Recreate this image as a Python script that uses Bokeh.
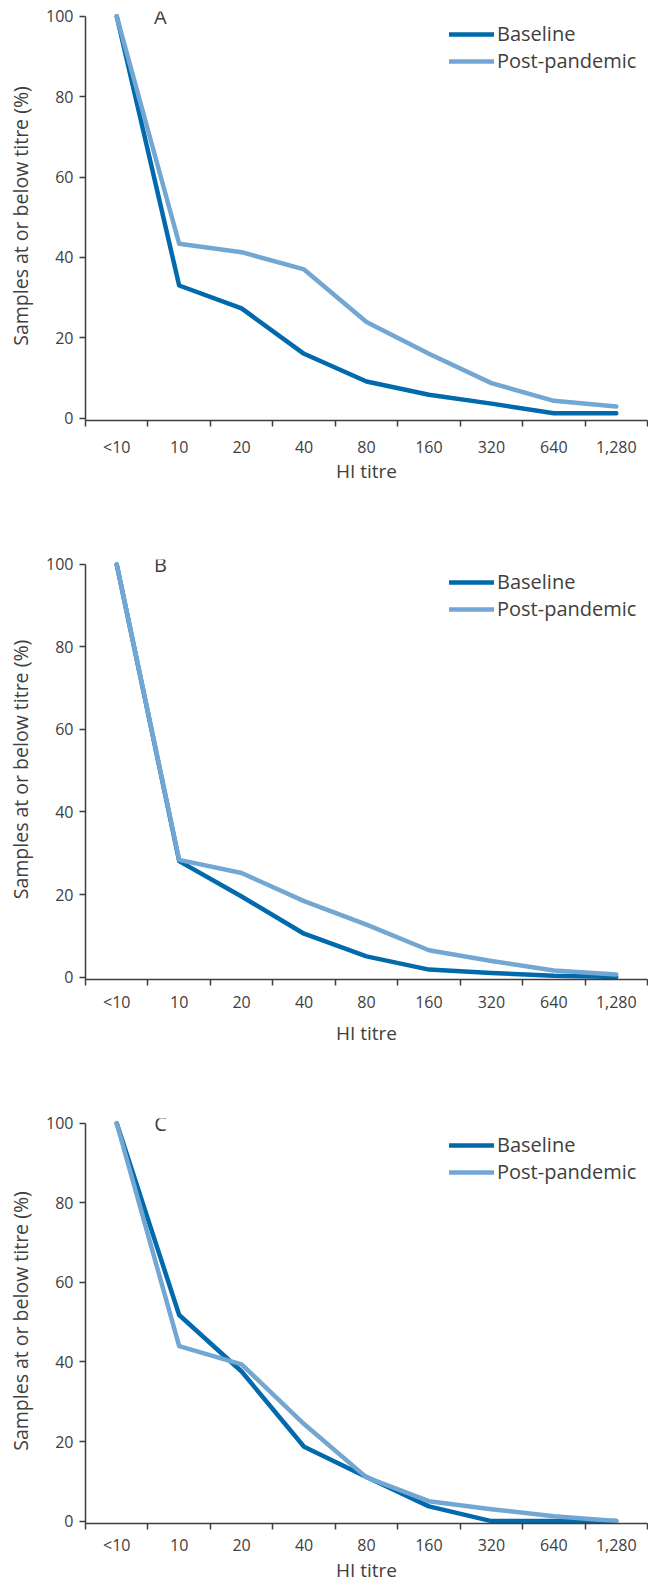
from bokeh.plotting import figure
from bokeh.models import Range1d, FixedTicker, Legend, LegendItem, Label
from bokeh.layouts import column
from bokeh.embed import file_html
from bokeh.resources import INLINE

# ---- data ----
titres = ["<10", "10", "20", "40", "80", "160", "320", "640", "1,280"]
baseline_a = [100, 33.0, 27.3, 16.0, 9.1, 5.8, 3.6, 1.2, 1.2]
post_a = [100, 43.4, 41.3, 37.0, 23.9, 16.0, 8.7, 4.3, 2.9]
baseline_b = [100, 28.1, 19.5, 10.5, 5.0, 1.8, 1.0, 0.3, 0.0]
post_b = [100, 28.4, 25.2, 18.4, 12.7, 6.5, 3.9, 1.6, 0.6]
baseline_c = [100, 51.8, 37.6, 18.7, 11.1, 3.7, 0.0, 0.0, 0.0]
post_c = [100, 44.0, 39.4, 24.4, 11.0, 5.0, 3.0, 1.2, 0.0]
series_names = ["Baseline", "Post-pandemic"]
panel_letters = ["A", "B", "C"]
y_ticks = [0, 20, 40, 60, 80, 100]
x_title = "HI titre"
y_title = "Samples at or below titre (%)"

# ---- style ----
FONT = "Open Sans"
DARK = "#006aad"
LIGHT = "#72a7d3"
AXIS = "#3d3d3d"
TEXT = "#404040"


def make_panel(letter, base, post, frame_h, b_top, b_bottom, tick_sd, title_sd, leg_top):
    n = len(titres)
    xs = list(range(n))
    p = figure(frame_width=562, frame_height=frame_h,
               min_border_left=85, min_border_right=1,
               min_border_top=b_top, min_border_bottom=b_bottom,
               x_range=Range1d(-0.5, n - 0.5), y_range=Range1d(-0.6, 101.2),
               output_backend="svg", toolbar_location=None)
    p.xgrid.visible = False
    p.ygrid.visible = False
    p.outline_line_color = None
    p.background_fill_color = "white"

    r_base = p.line(xs, base, line_color=DARK, line_width=4.5,
                    line_join="round", line_cap="round")
    r_post = p.line(xs, post, line_color=LIGHT, line_width=4.5,
                    line_join="round", line_cap="round")

    xa = p.xaxis[0]
    xa.ticker = FixedTicker(ticks=xs, minor_ticks=[i - 0.5 for i in range(n + 1)])
    xa.major_label_overrides = {i: t for i, t in zip(xs, titres)}
    xa.major_tick_out = 0
    xa.major_tick_in = 0
    xa.minor_tick_out = 6
    xa.minor_tick_in = 0
    xa.minor_tick_line_color = AXIS
    xa.minor_tick_line_width = 1.5
    xa.axis_line_color = AXIS
    xa.axis_line_width = 1.5
    xa.major_label_text_font = FONT
    xa.major_label_text_font_size = "16px"
    xa.major_label_text_color = TEXT
    xa.major_label_standoff = tick_sd
    xa.axis_label = x_title
    xa.axis_label_text_font = FONT
    xa.axis_label_text_font_size = "19px"
    xa.axis_label_text_font_style = "normal"
    xa.axis_label_text_color = TEXT
    xa.axis_label_standoff = title_sd

    ya = p.yaxis[0]
    ya.ticker = FixedTicker(ticks=y_ticks)
    ya.bounds = (-0.6, 100)
    ya.major_tick_out = 6
    ya.major_tick_in = 0
    ya.minor_tick_out = 0
    ya.minor_tick_in = 0
    ya.major_tick_line_color = AXIS
    ya.major_tick_line_width = 1.5
    ya.axis_line_color = AXIS
    ya.axis_line_width = 1.5
    ya.major_label_text_font = FONT
    ya.major_label_text_font_size = "16px"
    ya.major_label_text_color = TEXT
    ya.major_label_standoff = 6
    ya.axis_label = y_title
    ya.axis_label_text_font = FONT
    ya.axis_label_text_font_size = "19.5px"
    ya.axis_label_text_font_style = "normal"
    ya.axis_label_text_color = TEXT
    ya.axis_label_standoff = 9

    legend = Legend(items=[LegendItem(label=series_names[0], renderers=[r_base]),
                           LegendItem(label=series_names[1], renderers=[r_post])],
                    location=(364, frame_h - leg_top - 55), padding=0, spacing=0,
                    glyph_width=45, glyph_height=24, label_height=24,
                    label_standoff=3,
                    label_text_font=FONT, label_text_font_size="20px",
                    label_text_color=TEXT,
                    border_line_color=None, background_fill_alpha=0)
    p.add_layout(legend)

    p.add_layout(Label(x=0.7, y=100, text=letter, text_align="center",
                       text_baseline="middle", text_font=FONT,
                       text_font_size="20px", text_color=TEXT))
    return p


pa = make_panel(panel_letters[0], baseline_a, post_a, 409, 11, 66, 9, -3, 8)
pb = make_panel(panel_letters[1], baseline_b, post_b, 420, 73, 68, 5, 4, 8)
pc = make_panel(panel_letters[2], baseline_c, post_c, 405, 70, 62, 4, -2, 12)

layout = column(pa, pb, pc, spacing=0)
open("out.html", "w").write(file_html(layout, INLINE))
